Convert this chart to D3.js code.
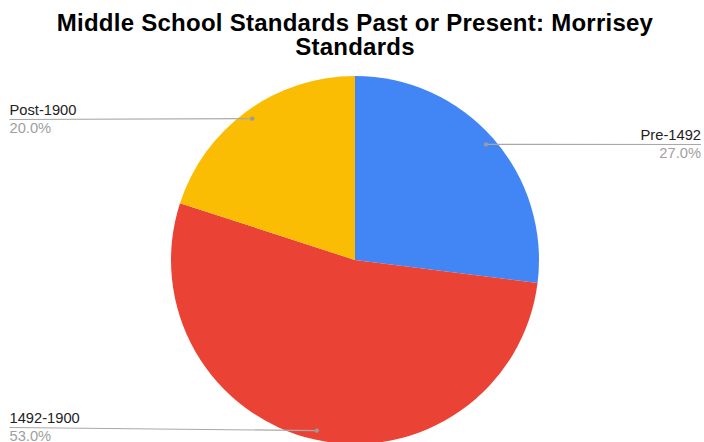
<!DOCTYPE html>
<html>
<head>
<meta charset="utf-8">
<script src="https://cdn.jsdelivr.net/npm/d3@7"></script>
<style>
  html, body { margin: 0; padding: 0; background: #fff; }
  svg { display: block; }
</style>
</head>
<body>
<svg id="chart" width="704" height="442"></svg>
<script>
// Share of standards by historical period
const categories = ["Pre-1492", "1492-1900", "Post-1900"];
const shares = [27, 53, 20];
const colors = ["#4285F4", "#EA4335", "#FBBC04"];
const titleLines = ["Middle School Standards Past or Present: Morrisey", "Standards"];

const W = 704, H = 442;
const cx = 355, cy = 260, R = 184;

const svg = d3.select("#chart");

// Two-line title kept in one text element
svg.append("text")
  .attr("x", cx)
  .attr("y", 30.5)
  .attr("text-anchor", "middle")
  .style("font-family", "'Liberation Sans', Arial, sans-serif")
  .style("font-weight", "bold")
  .style("font-size", "24px")
  .style("letter-spacing", "0.25px")
  .style("fill", "#000")
  .selectAll("tspan")
  .data(titleLines)
  .join("tspan")
  .attr("x", cx)
  .attr("dy", (d, i) => i === 0 ? 0 : 24.5)
  .text(d => d);

const data = categories.map((c, i) => ({ name: c, value: shares[i], color: colors[i] }));

const pie = d3.pie().value(d => d.value).sort(null);
const arcs = pie(data);
const arc = d3.arc().innerRadius(0).outerRadius(R);
const anchorArc = d3.arc().innerRadius(R * 0.95).outerRadius(R * 0.95);

const g = svg.append("g").attr("transform", `translate(${cx},${cy})`);
g.selectAll("path.slice")
  .data(arcs)
  .join("path")
  .attr("class", "slice")
  .attr("d", arc)
  .attr("fill", d => d.data.color);

// Leader label placement: side of the chart and the row of the leader line
const labelLayout = {
  "Pre-1492":  { side: "right", lineY: 144.5 },
  "1492-1900": { side: "left",  lineY: 427.5 },
  "Post-1900": { side: "left",  lineY: 119.5 }
};

const fmt = d3.format(".1f");
const total = d3.sum(shares);
const labels = svg.append("g");
arcs.forEach(a => {
  const [ax, ay] = anchorArc.centroid(a);
  const px = cx + ax, py = cy + ay;
  const lay = labelLayout[a.data.name];
  const right = lay.side === "right";
  const tx = right ? 701 : 9.5;

  labels.append("line")
    .attr("x1", px).attr("y1", py)
    .attr("x2", tx).attr("y2", lay.lineY)
    .attr("stroke", "#a8a8a8")
    .attr("stroke-width", 1.2);
  labels.append("circle")
    .attr("cx", px).attr("cy", py).attr("r", 2.2)
    .attr("fill", "#9a9a9a");
  labels.append("text")
    .attr("x", tx).attr("y", lay.lineY - 4.5)
    .attr("text-anchor", right ? "end" : "start")
    .style("font-family", "'Liberation Sans', Arial, sans-serif")
    .style("font-size", "14.7px")
    .style("fill", "#222")
    .text(a.data.name);
  labels.append("text")
    .attr("x", tx).attr("y", lay.lineY + 13)
    .attr("text-anchor", right ? "end" : "start")
    .style("font-family", "'Liberation Sans', Arial, sans-serif")
    .style("font-size", "14.7px")
    .style("fill", "#a0a0a0")
    .text(fmt(a.data.value / total * 100) + "%");
});
</script>
</body>
</html>
